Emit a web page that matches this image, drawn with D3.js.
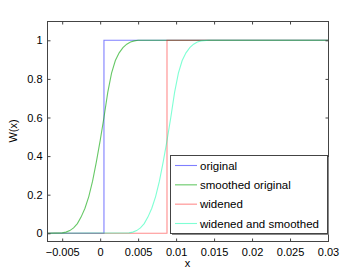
<!DOCTYPE html>
<html>
<head>
<meta charset="utf-8">
<script src="https://cdn.jsdelivr.net/npm/d3@7"></script>
<style>
    body { margin: 0; background: #fff; }
    text { font-family: "Liberation Sans", Arial, sans-serif; font-size: 11px; fill: #000; }
</style>
</head>
<body>
<svg id="chart" width="362" height="272"></svg>
<script>
const WIDTH = 362
const HEIGHT = 272

// series
const seriesNames = ['original', 'smoothed original', 'widened', 'widened and smoothed'];

const originalX = [-0.007, 0.0005, 0.0005, 0.03];
const originalY = [0, 0, 1, 1];

const smoothedX = [-0.007, -0.005, -0.0045, -0.004, -0.0035, -0.003, -0.0025, -0.002, -0.0015, -0.001, -0.0005, 0,
    0.0005, 0.001, 0.0015, 0.002, 0.0025, 0.003, 0.0035, 0.004, 0.0045, 0.005, 0.03];
const smoothedY = [0, 0.002, 0.006, 0.014, 0.028, 0.05, 0.085, 0.13, 0.19, 0.27, 0.37, 0.48,
    0.6, 0.73, 0.83, 0.895, 0.935, 0.962, 0.98, 0.991, 0.997, 1, 1];

const widenedX = [-0.007, 0.0088, 0.0088, 0.03];
const widenedY = [0, 0, 1, 1];

const widenedSmoothedX = [-0.007, 0.0038, 0.0043, 0.0048, 0.0053, 0.0058, 0.0063, 0.0068, 0.0073, 0.0078, 0.0083, 0.0088,
    0.0093, 0.0098, 0.0103, 0.0108, 0.0113, 0.0118, 0.0123, 0.0128, 0.0133, 0.0143, 0.03];
const widenedSmoothedY = [0, 0.002, 0.006, 0.014, 0.028, 0.05, 0.085, 0.13, 0.19, 0.27, 0.37, 0.48,
    0.6, 0.73, 0.83, 0.895, 0.935, 0.962, 0.98, 0.991, 0.997, 1, 1];

const xTicks = [-0.005, 0, 0.005, 0.01, 0.015, 0.02, 0.025, 0.03];
const yTicks = [0, 0.2, 0.4, 0.6, 0.8, 1];

const colors = ['rgba(0,0,255,0.5)', 'rgba(20,170,20,0.65)', 'rgba(255,0,0,0.45)', 'rgba(0,255,170,0.5)'];

let padding = { left: 47, top: 21, right: 34, bottom: 31 };

const svg = d3.select('#chart');

const xAxis = d3.scaleLinear()
    .domain([-0.007, 0.03])
    .range([padding.left, WIDTH - padding.right]);

const yAxis = d3.scaleLinear()
    .domain([-0.04, 1.1])
    .range([HEIGHT - padding.bottom, padding.top]);

const fmt = d => d < 0 ? '\u2212' + Math.abs(d) : String(d);
const tickLen = 3;

// lines
let seriesData = [
    d3.zip(originalX, originalY),
    d3.zip(smoothedX, smoothedY),
    d3.zip(widenedX, widenedY),
    d3.zip(widenedSmoothedX, widenedSmoothedY)
];

let line = d3.line()
    .x(d => xAxis(d[0]))
    .y(d => yAxis(d[1]));

svg.append('g')
    .attr('id', 'lines')
    .selectAll('path')
    .data(seriesData)
    .join('path')
    .attr('fill', 'none')
    .attr('stroke', (d, i) => colors[i])
    .attr('stroke-width', 1.1)
    .attr('d', line);

// axes, MATLAB style box with inward ticks
const axisColor = '#444';
const x0 = padding.left, x1 = WIDTH - padding.right;
const y0 = HEIGHT - padding.bottom, y1 = padding.top;

svg.append('rect')
    .attr('x', x0 + 0.5)
    .attr('y', y1 + 0.5)
    .attr('width', x1 - x0)
    .attr('height', y0 - y1)
    .attr('fill', 'none')
    .attr('stroke', axisColor);

svg.append('g')
    .attr('transform', `translate(0, ${y0 + 0.5})`)
    .call(d3.axisBottom(xAxis).tickValues(xTicks).tickSize(-tickLen).tickPadding(7).tickFormat(fmt))
    .call(g => g.select('.domain').remove());

svg.append('g')
    .attr('transform', `translate(0, ${y1 + 0.5})`)
    .call(d3.axisTop(xAxis).tickValues(xTicks).tickSize(-tickLen).tickFormat(''))
    .call(g => g.select('.domain').remove());

svg.append('g')
    .attr('transform', `translate(${x0 + 0.5}, 0)`)
    .call(d3.axisLeft(yAxis).tickValues(yTicks).tickSize(-tickLen).tickPadding(5).tickFormat(fmt))
    .call(g => g.select('.domain').remove());

svg.append('g')
    .attr('transform', `translate(${x1 + 0.5}, 0)`)
    .call(d3.axisRight(yAxis).tickValues(yTicks).tickSize(-tickLen).tickFormat(''))
    .call(g => g.select('.domain').remove());

svg.selectAll('.tick line').attr('stroke', axisColor);
svg.selectAll('.tick text')
    .attr('font-family', '"Liberation Sans", Arial, sans-serif')
    .attr('font-size', 11)
    .attr('fill', '#000');

// axis titles
svg.append('text')
    .text('x')
    .attr('text-anchor', 'middle')
    .attr('x', (x0 + x1) / 2)
    .attr('y', 267);

svg.append('text')
    .text('W(x)')
    .attr('text-anchor', 'middle')
    .attr('transform', `translate(17, ${(y0 + y1) / 2}) rotate(-90)`);

// legend
const legend = { left: 170, top: 155, right: 327, bottom: 233 };
const lg = svg.append('g').attr('id', 'legend');

lg.append('rect')
    .attr('x', legend.left + 0.5)
    .attr('y', legend.top + 0.5)
    .attr('width', legend.right - legend.left)
    .attr('height', legend.bottom - legend.top)
    .attr('fill', '#fff')
    .attr('stroke', axisColor);

lg.append('path')
    .attr('d', `M${legend.left + 2},${legend.bottom + 1.5}H${legend.right + 1.5}V${legend.top + 2}`)
    .attr('fill', 'none')
    .attr('stroke', '#888');

let rowY = d3.scalePoint()
    .domain(seriesNames)
    .range([165.5, 223.5]);

lg.selectAll('line')
    .data(seriesNames)
    .join('line')
    .attr('x1', 175)
    .attr('x2', 197)
    .attr('y1', d => rowY(d))
    .attr('y2', d => rowY(d))
    .attr('stroke', (d, i) => colors[i])
    .attr('stroke-width', 1.1);

lg.selectAll('text')
    .data(seriesNames)
    .join('text')
    .text(d => d)
    .attr('x', 200)
    .attr('y', d => rowY(d))
    .attr('dy', '0.35em')
    .style('font-size', '11.5px');
</script>
</body>
</html>
